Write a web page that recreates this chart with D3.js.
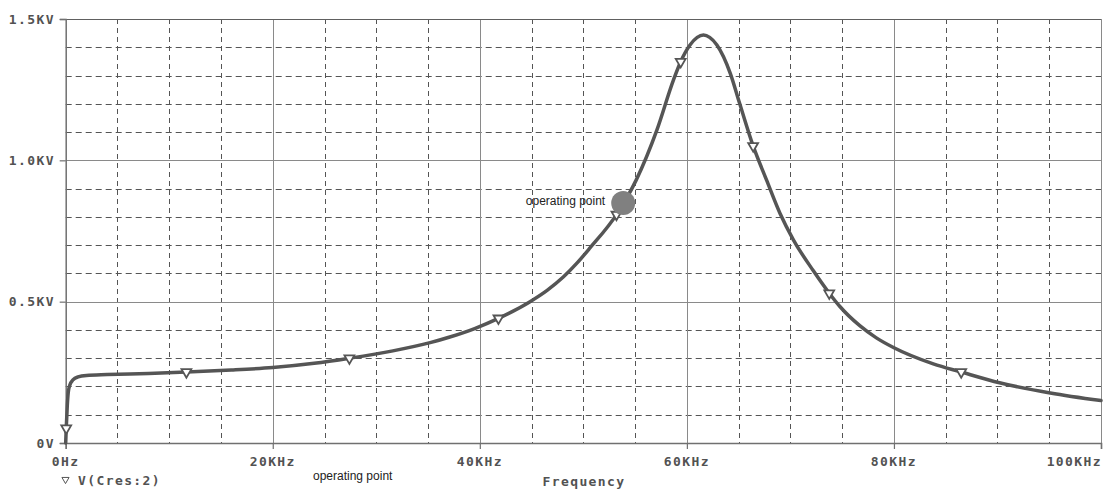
<!DOCTYPE html>
<html>
<head>
<meta charset="utf-8">
<script src="https://cdn.jsdelivr.net/npm/d3@7"></script>
<style>
  html, body { margin: 0; padding: 0; background: #fff; }
  svg { display: block; }
  .lbl { font-family: "DejaVu Sans Mono", monospace; font-weight: bold; font-size: 13px; letter-spacing: 1.4px; fill: #525252; }
  .note { font-family: "Liberation Sans", Arial, sans-serif; font-size: 12px; fill: #222; }
</style>
</head>
<body>
<svg id="chart" width="1108" height="491"></svg>
<script>
// Frequency sweep of V(Cres:2): frequency in kHz, voltage in kV
const freqKHz = [0, 0.05, 0.15, 0.25, 0.4, 0.7, 1.2, 2, 4, 8, 11.66, 16, 20, 24, 27.4, 31.6, 35.2, 37.1, 39.5,
  41.8, 44.85, 46.5, 48.06, 49.4, 50.64, 53.2, 55.1, 57.1, 58.7, 59.4, 60.3, 61.0, 61.6, 62.2, 62.9, 64.2, 65.1, 66.4,
  67.7, 69.0, 70.3, 72.2, 73.75, 74.8, 76.7, 78.3, 80, 83.8, 86.5, 90.2, 95.1, 100];
const voltKV = [0, 0.05, 0.13, 0.18, 0.205, 0.223, 0.234, 0.239, 0.242, 0.246, 0.251, 0.258, 0.267, 0.282, 0.300, 0.326, 0.355, 0.375, 0.405,
  0.441, 0.50, 0.54, 0.587, 0.637, 0.69, 0.808, 0.930, 1.107, 1.284, 1.349, 1.408, 1.435, 1.443, 1.435, 1.408, 1.307, 1.201, 1.051,
  0.930, 0.812, 0.718, 0.61, 0.530, 0.482, 0.415, 0.372, 0.337, 0.280, 0.251, 0.213, 0.177, 0.150];

// Trace symbols along the curve
const markerKHz = [0.05, 11.66, 27.4, 41.8, 53.2, 59.4, 66.4, 73.75, 86.5];
const markerKV  = [0.052, 0.251, 0.300, 0.441, 0.808, 1.349, 1.051, 0.530, 0.251];

// Operating point
const opKHz = [53.85];
const opKV = [0.849];
const opLabel = "operating point";

// Axis ticks and labels
const xTicks = [0, 20, 40, 60, 80, 100];
const xTickLabels = ["0Hz", "20KHz", "40KHz", "60KHz", "80KHz", "100KHz"];
const yTicks = [0, 0.5, 1.0, 1.5];
const yTickLabels = ["0V", "0.5KV", "1.0KV", "1.5KV"];
const xTitle = "Frequency";
const traceName = "V(Cres:2)";

const svg = d3.select("#chart");
const plotL = 65.7, plotR = 1101, plotT = 19, plotB = 443;

const x = d3.scaleLinear().domain([0, 100]).range([plotL, plotR]);
const y = d3.scaleLinear().domain([0, 1.5]).range([plotB, plotT]);

// Minor dashed grid
const minorX = d3.range(5, 100, 5).filter(v => v % 20 !== 0);
const minorY = d3.range(1, 15).map(v => v / 10).filter(v => Math.round(v * 10) % 5 !== 0);

svg.append("g").selectAll("line").data(minorX).join("line")
  .attr("x1", d => Math.round(x(d)) + 0.5).attr("x2", d => Math.round(x(d)) + 0.5)
  .attr("y1", plotT).attr("y2", plotB)
  .attr("stroke", "#555").attr("stroke-width", 1).attr("stroke-dasharray", "5,4");

svg.append("g").selectAll("line").data(minorY).join("line")
  .attr("x1", plotL).attr("x2", plotR)
  .attr("y1", d => Math.round(y(d)) + 0.5).attr("y2", d => Math.round(y(d)) + 0.5)
  .attr("stroke", "#555").attr("stroke-width", 1).attr("stroke-dasharray", "6,4");

// Major solid grid
svg.append("g").selectAll("line").data(xTicks.slice(1)).join("line")
  .attr("x1", d => Math.round(x(d)) + 0.5).attr("x2", d => Math.round(x(d)) + 0.5)
  .attr("y1", plotT).attr("y2", plotB)
  .attr("stroke", "#8a8a8a").attr("stroke-width", 1);

svg.append("g").selectAll("line").data(yTicks.slice(1)).join("line")
  .attr("x1", plotL).attr("x2", plotR)
  .attr("y1", d => Math.round(y(d)) + 0.5).attr("y2", d => Math.round(y(d)) + 0.5)
  .attr("stroke", d => d === 1.5 ? "#606060" : "#8a8a8a").attr("stroke-width", 1);

// Axes
const xAxis = d3.axisBottom(x).tickValues(xTicks).tickSize(6).tickFormat("");
const yAxis = d3.axisLeft(y).tickValues(yTicks).tickSize(6).tickFormat("");

const gx = svg.append("g").attr("transform", `translate(0,${plotB})`).call(xAxis);
const gy = svg.append("g").attr("transform", `translate(${plotL},0)`).call(yAxis);
[gx, gy].forEach(g => {
  g.select(".domain").attr("stroke", "#707070").attr("stroke-width", 1.5);
  g.selectAll(".tick line").attr("stroke", "#707070").attr("stroke-width", 1.2);
});

// Tick labels
svg.append("g").selectAll("text").data(xTicks).join("text")
  .attr("class", "lbl")
  .attr("x", (d, i) => i === xTicks.length - 1 ? x(d) + 1 : x(d))
  .attr("y", 466)
  .attr("text-anchor", (d, i) => i === xTicks.length - 1 ? "end" : "middle")
  .text((d, i) => xTickLabels[i]);

svg.append("g").selectAll("text").data(yTicks).join("text")
  .attr("class", "lbl")
  .attr("x", 55)
  .attr("y", d => y(d) + 4.5)
  .attr("text-anchor", "end")
  .text((d, i) => yTickLabels[i]);

svg.append("text").attr("class", "lbl").attr("x", 584).attr("y", 486)
  .attr("text-anchor", "middle").text(xTitle);

// Legend entry
const tri = d3.symbol().type(d3.symbolTriangle);
svg.append("path")
  .attr("d", tri.size(22)())
  .attr("transform", "translate(65.5,479.5) rotate(180)")
  .attr("fill", "#fff").attr("stroke", "#555").attr("stroke-width", 1);
svg.append("text").attr("class", "lbl").attr("x", 78).attr("y", 485).text(traceName);

svg.append("text").attr("class", "note").attr("x", 313).attr("y", 480).text(opLabel);

// Trace
const pts = freqKHz.map((f, i) => [f, voltKV[i]]);
const line = d3.line().x(d => x(d[0])).y(d => y(d[1])).curve(d3.curveMonotoneX);
svg.append("path").datum(pts)
  .attr("d", line)
  .attr("fill", "none").attr("stroke", "#555").attr("stroke-width", 3.5)
  .attr("stroke-linejoin", "round").attr("stroke-linecap", "round");

// Trace symbols
svg.append("g").selectAll("path").data(markerKHz).join("path")
  .attr("d", tri.size(42)())
  .attr("transform", (d, i) => `translate(${x(d)},${y(markerKV[i])}) rotate(180)`)
  .attr("fill", "#fff").attr("stroke", "#555").attr("stroke-width", 1.8);

// Operating point marker and label
svg.append("circle")
  .attr("cx", x(opKHz[0])).attr("cy", y(opKV[0])).attr("r", 12)
  .attr("fill", "#808080");
svg.append("text").attr("class", "note")
  .attr("x", x(opKHz[0]) - 18).attr("y", y(opKV[0]) + 2)
  .attr("text-anchor", "end").text(opLabel);
</script>
</body>
</html>
